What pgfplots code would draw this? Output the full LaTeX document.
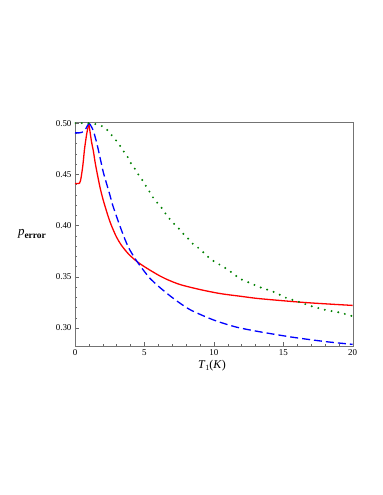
\documentclass[border=0pt]{standalone}
\usepackage{fontspec}
\setmainfont{Liberation Serif}
\usepackage{pgfplots}
\pgfplotsset{compat=1.18}
\definecolor{mapleGreen}{RGB}{0,128,0}

\begin{document}
\begin{tikzpicture}
\begin{axis}[
    name=ax,
    scale only axis,
    width=277.7bp, height=223.7bp,
    xmin=0, xmax=20,
    ymin=0.2825, ymax=0.5008,
    xtick={0,5,10,15,20},
    ytick={0.30,0.35,0.40,0.45,0.50},
    minor x tick num=4,
    minor y tick num=4,
    tick pos=left,
    tick align=inside,
    major tick length=4bp,
    minor tick length=2bp,
    axis line style={black!55},
    every tick/.style={black!60},
    ticklabel style={font=\fontsize{9}{10}\selectfont},
    /pgf/number format/assume math mode=true,
    yticklabel style={/pgf/number format/.cd, fixed, fixed zerofill, precision=2},
    xlabel={\fontsize{12}{14}\selectfont\textit{T}\raisebox{-0.35ex}{\fontsize{8}{9}\selectfont 1}(\textit{K})},
    xlabel style={at={(axis description cs:0.493,-0.089)}, anchor=center},
    ylabel={\fontsize{13}{15}\selectfont\textit{p}\raisebox{-0.5ex}{\fontsize{9.5}{11}\selectfont\bfseries error}},
    ylabel style={rotate=-90, at={(axis description cs:-0.155,0.5)}, anchor=center},
]
% solid red
\addplot[red, line width=1.3bp, smooth, tension=0.4] coordinates {
(0,0.441) (0.25,0.441) (0.33,0.4415) (0.4,0.444) (0.47,0.4495) (0.55,0.457)
(0.6,0.463) (0.68,0.474) (0.77,0.483) (0.85,0.490) (0.91,0.494) (1.0,0.499)
};
\addplot[red, line width=1.3bp, smooth, tension=0.5] coordinates {
(1.0,0.499) (1.1,0.490) (1.2,0.481) (1.32,0.473) (1.44,0.4625) (1.56,0.4536)
(1.8,0.4374) (2.04,0.4245) (2.4,0.4085) (2.64,0.3995) (3.0,0.3885)
(3.36,0.3805) (3.84,0.3725) (4.32,0.3665) (4.68,0.3628) (5.28,0.3575)
(6.12,0.3508) (6.6,0.3476) (7.56,0.3425) (9.0,0.3376) (10.44,0.3337)
(11.88,0.3311) (13.3,0.3287) (16.2,0.3253) (18.1,0.3236) (20,0.3221)
};
% dashed blue
\addplot[blue, line width=1.3bp, dash pattern=on 8bp off 4bp, smooth, tension=0.4] coordinates {
(0,0.4905) (0.3,0.4905) (0.5,0.491) (0.65,0.4925) (0.8,0.495) (0.9,0.4975) (1.0,0.500)
};
\addplot[blue, line width=1.3bp, dash pattern=on 8bp off 4bp, smooth, tension=0.45] coordinates {
(1.0,0.500) (1.1,0.4985) (1.2,0.496) (1.32,0.4925) (1.56,0.481) (1.8,0.4666)
(2.04,0.452) (2.28,0.4407) (2.52,0.4295) (2.76,0.418) (3.36,0.395)
(3.84,0.379) (4.44,0.3655) (5.04,0.3545) (5.4,0.3485) (6.12,0.3395)
(7.08,0.329) (8.28,0.318) (9.96,0.308) (11.6,0.301)
(13.3,0.2964) (15.7,0.291) (18.1,0.2867) (20,0.2841)
};
% dotted green
\addplot[mapleGreen, line width=2.2bp, line cap=round, dash pattern=on 0bp off 6.8bp, smooth, tension=0.5] coordinates {
(0,0.500) (0.8,0.500) (1.3,0.4995) (1.68,0.4984) (2.16,0.4955) (2.52,0.490)
(2.88,0.4844) (3.19,0.479) (3.48,0.473) (3.79,0.467) (4.03,0.4607)
(4.32,0.4553) (4.61,0.4488) (4.92,0.443) (5.16,0.4374) (5.47,0.431)
(5.76,0.4245) (6.12,0.4196) (6.41,0.4138) (6.72,0.408) (7.08,0.4024)
(7.42,0.398) (7.8,0.392) (8.16,0.3872) (8.52,0.3817) (9.0,0.3771)
(9.72,0.3678) (10.2,0.3636) (10.9,0.358) (11.4,0.353) (11.9,0.348)
(12.6,0.344) (13.3,0.340) (14.3,0.3353) (15.2,0.3295) (15.85,0.3268)
(16.4,0.3242) (17.2,0.3207) (18.1,0.3175) (19.1,0.315) (20,0.3115)
};
\end{axis}
\path ([shift={(-75bp,-149bp)}]ax.south west) rectangle ++(383bp,495bp);
\end{tikzpicture}
\end{document}
